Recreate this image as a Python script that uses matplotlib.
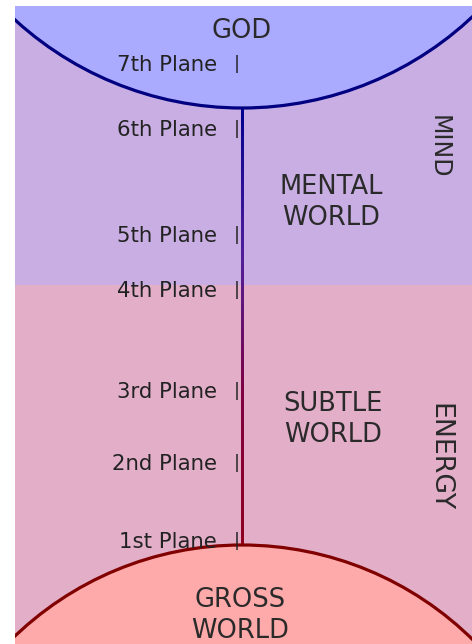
import numpy as np
import matplotlib
matplotlib.use('Agg')
import matplotlib.pyplot as plt
from matplotlib.patches import Rectangle, Circle
from matplotlib.colors import LinearSegmentedColormap

# planes, top to bottom, with their level on the axis (pixels from top)
planes = ['7th Plane', '6th Plane', '5th Plane', '4th Plane', '3rd Plane', '2nd Plane', '1st Plane']
plane_level = [71, 136, 242, 297, 398, 470, 548]

worlds = ['GOD', 'MENTAL\nWORLD', 'SUBTLE\nWORLD', 'GROSS\nWORLD']
sides = ['MIND', 'ENERGY']

fig = plt.figure(figsize=(4.72, 6.44), dpi=100)
ax = fig.add_axes([0, 0, 1, 1])
ax.set_xlim(0, 472)
ax.set_ylim(644, 0)
ax.axis('off')

# background bands
left, top, right, split, bottom = 15, 6, 472, 284.5, 644
frame = Rectangle((left, top), right - left, bottom - top, fc='none', ec='none')
ax.add_patch(frame)
ax.add_patch(Rectangle((left, top), right - left, split - top, fc='#c8aee2', ec='none'))
ax.add_patch(Rectangle((left, split), right - left, bottom - split, fc='#e2aec8', ec='none'))

# god and gross world circles
cx = 242
god = Circle((cx, -228.5), 336.5, fc='#aaaaff', ec='#000080', lw=2.3, zorder=2)
gross = Circle((cx, 873.5), 328.5, fc='#ffaaaa', ec='#800000', lw=2.3, zorder=2)
for c in (god, gross):
    ax.add_patch(c)
    c.set_clip_path(frame)

# connecting line, blue to red
cmap = LinearSegmentedColormap.from_list('path', ['#000090', '#50209a', '#800040', '#900020'])
ax.imshow(np.linspace(0, 1, 256)[:, None], cmap=cmap, aspect='auto',
          extent=[cx - 1.5, cx + 1.5, 545, 108.5], zorder=1.5)

fs_small = 15.3
fs_big = 18.5
txt = '#222222'
for name, yb in zip(planes, plane_level):
    ax.text(217, yb, name, ha='right', va='baseline', fontsize=fs_small, color=txt, zorder=3)
    ax.text(236.5, yb - 2.5, '|', ha='center', va='baseline', fontsize=fs_small * 0.85,
            color='#222222', zorder=3)

# world labels
ax.text(242, 38, worlds[0], ha='center', va='baseline', fontsize=fs_big, color='#2a2a2a', zorder=3)
for name, x, yb in [(worlds[1], 331, 194), (worlds[2], 333, 411), (worlds[3], 240, 607)]:
    l1, l2 = name.split('\n')
    ax.text(x, yb, l1, ha='center', va='baseline', fontsize=fs_big, color='#2a2a2a', zorder=3)
    ax.text(x, yb + 31, l2, ha='center', va='baseline', fontsize=fs_big, color='#2a2a2a', zorder=3)

ax.text(439, 147, sides[0], ha='center', va='center', rotation=270, rotation_mode='anchor',
        fontsize=fs_big * 0.92, color='#2a2a2a', zorder=3)
ax.text(439, 457, sides[1], ha='center', va='center', rotation=270, rotation_mode='anchor',
        fontsize=fs_big * 1.04, color='#2a2a2a', zorder=3)

fig.savefig('out.png', dpi=100)
